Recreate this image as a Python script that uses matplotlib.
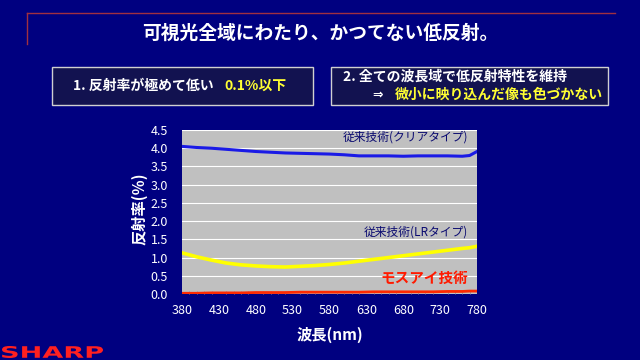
import matplotlib
matplotlib.use("Agg")
import matplotlib.pyplot as plt
from matplotlib.patches import Rectangle, PathPatch
from matplotlib.lines import Line2D
from matplotlib.textpath import TextPath
from matplotlib.font_manager import FontProperties
from matplotlib.transforms import Affine2D

plt.rcParams['font.family'] = ['Noto Sans CJK JP', 'DejaVu Sans']

wavelength = [380, 400, 420, 440, 460, 480, 500, 520, 540, 560, 580, 600,
              620, 640, 660, 680, 700, 720, 740, 760, 770, 780]
clear_type = [4.05, 4.02, 4.00, 3.97, 3.94, 3.91, 3.89, 3.87, 3.86, 3.85, 3.84, 3.82,
              3.79, 3.79, 3.79, 3.78, 3.79, 3.79, 3.79, 3.78, 3.80, 3.91]
lr_type = [1.13, 1.02, 0.93, 0.85, 0.80, 0.77, 0.75, 0.74, 0.76, 0.78, 0.81, 0.85,
           0.90, 0.95, 1.00, 1.05, 1.10, 1.15, 1.20, 1.25, 1.27, 1.31]
moth_eye = [0.02, 0.02, 0.03, 0.03, 0.03, 0.04, 0.04, 0.04, 0.05, 0.05, 0.05, 0.05,
            0.05, 0.06, 0.06, 0.06, 0.06, 0.06, 0.07, 0.07, 0.08, 0.08]
x_ticks = [380, 430, 480, 530, 580, 630, 680, 730, 780]
y_ticks = [0.0, 0.5, 1.0, 1.5, 2.0, 2.5, 3.0, 3.5, 4.0, 4.5]

title = "可視光全域にわたり、かつてない低反射。"
box1_text = "1. 反射率が極めて低い"
box1_hl = "0.1%以下"
box2_line1 = "2. 全ての波長域で低反射特性を維持"
box2_arrow = "⇒"
box2_hl = "微小に映り込んだ像も色づかない"
label_clear = "従来技術(クリアタイプ)"
label_lr = "従来技術(LRタイプ)"
label_moth = "モスアイ技術"
xlabel = "波長(nm)"
ylabel = "反射率(％)"

BG = "#000080"
W, H = 640, 360
fig = plt.figure(figsize=(6.4, 3.6), dpi=100, facecolor=BG)

def fx(px):
    return px / W

def fy(py):
    return 1 - py / H

# header lines
fig.add_artist(Line2D([fx(27), fx(615)], [fy(13), fy(13)], color="#a03040", lw=1.0))
fig.add_artist(Line2D([fx(27), fx(27)], [fy(13), fy(44)], color="#a03040", lw=1.0))
fig.text(0.5, fy(33), title, color="white", fontsize=13.5, fontweight="bold",
         ha="center", va="center")

# boxes
for x0, x1 in [(52, 313), (331, 608)]:
    fig.add_artist(Rectangle((fx(x0), fy(105)), fx(x1 - x0), (105 - 67) / H,
                             facecolor="#121250", edgecolor="#d0d0d0", lw=1.0))
fig.text(fx(73), fy(86), box1_text, color="white", fontsize=10, fontweight="bold",
         va="center", ha="left")
fig.text(fx(224), fy(86), box1_hl, color="#ffff33", fontsize=10, fontweight="bold",
         va="center", ha="left")
fig.text(fx(343), fy(77), box2_line1, color="white", fontsize=10, fontweight="bold",
         va="center", ha="left")
fig.text(fx(372), fy(95), box2_arrow, color="white", fontsize=9, fontweight="bold",
         va="center", ha="left", family=['DejaVu Sans'])
fig.text(fx(395), fy(95), box2_hl, color="#ffff33", fontsize=10, fontweight="bold",
         va="center", ha="left")

# axes
ax = fig.add_axes([fx(182), fy(294), fx(477 - 182), (294 - 130) / H])
ax.set_facecolor("#c0c0c0")
ax.plot(wavelength, clear_type, color="#1a1ae6", lw=2.2)
ax.plot(wavelength, lr_type, color="#ffff00", lw=2.6)
ax.plot(wavelength, moth_eye, color="#ff2a00", lw=2.0)
ax.set_xlim(380, 780)
ax.set_ylim(0, 4.5)
ax.set_xticks(x_ticks)
ax.set_yticks(y_ticks)
ax.set_yticklabels([f"{v:.1f}" for v in y_ticks])
ax.set_xticks(range(380, 781, 10), minor=True)
ax.grid(axis="y", color="white", lw=0.8)
ax.set_axisbelow(True)
for s in ax.spines.values():
    s.set_visible(False)
ax.tick_params(axis="both", colors="white", labelsize=9, length=0)
ax.tick_params(axis="y", pad=10)
ax.tick_params(axis="x", pad=7)
ax.tick_params(axis="x", which="minor", length=2, color="#9090a0", direction="in")
ax.set_xlabel(xlabel, color="white", fontsize=11, fontweight="bold", labelpad=7)
ax.set_ylabel(ylabel, color="white", fontsize=11, fontweight="bold")
ax.yaxis.set_label_coords(-0.118, 0.52)

ax.text(768, 4.3, label_clear, color="#0a0a70", fontsize=8.5, ha="right", va="center")
ax.text(768, 1.7, label_lr, color="#0a0a70", fontsize=8.5, ha="right", va="center")
ax.text(768, 0.45, label_moth, color="#ff1a00", fontsize=10.5, fontweight="bold",
        ha="right", va="center")

# SHARP logo as wide text
fp = FontProperties(family="DejaVu Sans", weight="bold")
tp = TextPath((0, 0), "SHARP", size=10, prop=fp)
bb = tp.get_extents()
sx = 101 / bb.width
sy = 12 / bb.height
tr = Affine2D().translate(-bb.x0, -bb.y0).scale(sx, sy).translate(2, 360 - 358)
logo_ax = fig.add_axes([0, 0, 1, 1], facecolor="none")
logo_ax.set_xlim(0, W)
logo_ax.set_ylim(0, H)
logo_ax.axis("off")
logo_ax.add_patch(PathPatch(tr.transform_path(tp), facecolor="#ff2020", edgecolor="none"))

fig.savefig("out.png", dpi=100, facecolor=BG)
